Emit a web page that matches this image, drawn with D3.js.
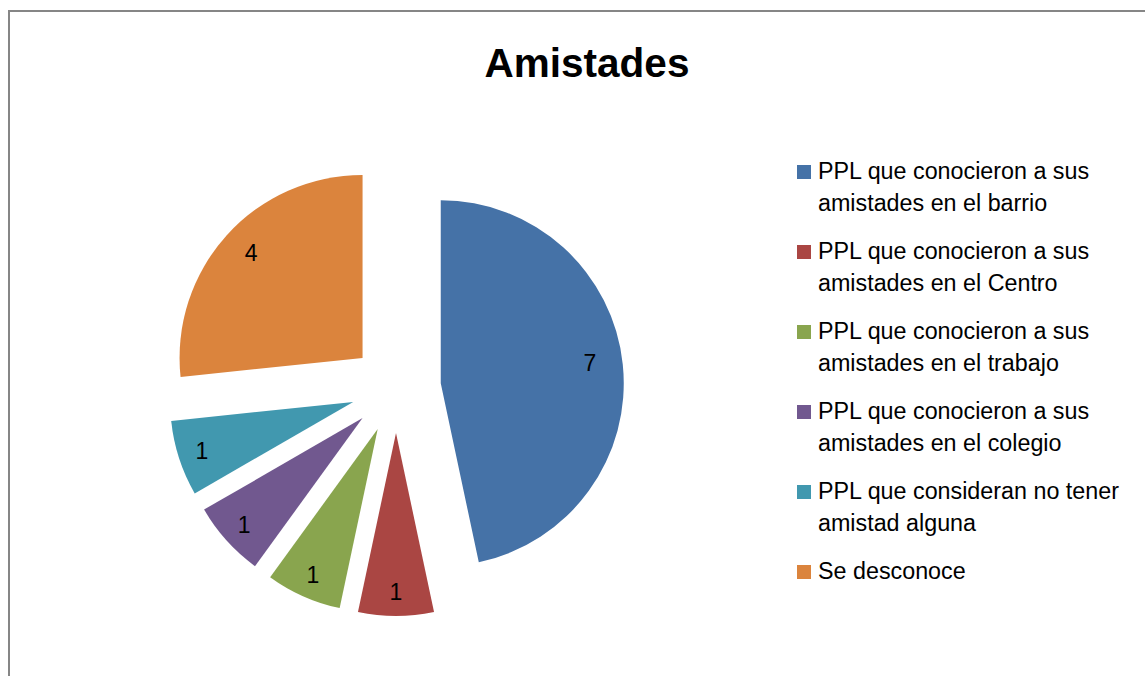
<!DOCTYPE html>
<html>
<head>
<meta charset="utf-8">
<script src="https://cdn.jsdelivr.net/npm/d3@7"></script>
<style>
  html, body { margin: 0; padding: 0; background: #fff; }
  svg { display: block; }
</style>
</head>
<body>
<svg id="chart" width="1145" height="676"></svg>
<script>
const title = "Amistades";
const categories = [
  ["PPL que conocieron a sus", "amistades en el barrio"],
  ["PPL que conocieron a sus", "amistades en el Centro"],
  ["PPL que conocieron a sus", "amistades en el trabajo"],
  ["PPL que conocieron a sus", "amistades en el colegio"],
  ["PPL que consideran no tener", "amistad alguna"],
  ["Se desconoce"]
];
const values = [7, 1, 1, 1, 1, 4];
const colors = ["#4572A7", "#AA4643", "#89A54E", "#71588F", "#4198AF", "#DB843D"];

const W = 1145, H = 676;
const svg = d3.select("#chart");
const FONT = "'Liberation Sans', Arial, sans-serif";

// chart border
svg.append("rect")
  .attr("x", 9).attr("y", 11)
  .attr("width", W + 20).attr("height", H + 20)
  .attr("fill", "#fff").attr("stroke", "#868686").attr("stroke-width", 2);

// title
svg.append("text")
  .attr("x", 587).attr("y", 77)
  .attr("text-anchor", "middle")
  .attr("font-family", FONT).attr("font-weight", "bold")
  .attr("font-size", 40.5).attr("fill", "#000")
  .text(title);

// pie
const cx = 396, cy = 388, R = 183, explode = 45;
const pie = d3.pie().sort(null).value(d => d);
const arcs = pie(values);
const arc = d3.arc().innerRadius(0).outerRadius(R);

const g = svg.append("g").attr("transform", `translate(${cx},${cy})`);
const slices = g.selectAll("g.slice").data(arcs).enter().append("g")
  .attr("class", "slice")
  .attr("transform", d => {
    const a = (d.startAngle + d.endAngle) / 2;
    return `translate(${explode * Math.sin(a)},${-explode * Math.cos(a)})`;
  });

slices.append("path")
  .attr("d", arc)
  .attr("fill", (d, i) => colors[i]);

slices.append("text")
  .attr("transform", d => {
    const share = (d.endAngle - d.startAngle) / (2 * Math.PI);
    const a = (d.startAngle + d.endAngle) / 2;
    const lr = R * (share > 0.2 ? 0.82 : 0.87);
    return `translate(${lr * Math.sin(a)},${-lr * Math.cos(a) - (share > 0.2 ? 5 : 0)})`;
  })
  .attr("text-anchor", "middle")
  .attr("dy", "0.36em")
  .attr("font-family", FONT).attr("font-size", 23).attr("fill", "#000")
  .text(d => d.value);

// legend
const legend = svg.append("g").attr("transform", "translate(797,179)");
const items = legend.selectAll("g.item").data(categories).enter().append("g")
  .attr("class", "item")
  .attr("transform", (d, i) => `translate(0,${i * 80})`);

items.append("rect")
  .attr("x", 0).attr("y", -14)
  .attr("width", 14).attr("height", 14)
  .attr("fill", (d, i) => colors[i]);

items.append("text")
  .attr("font-family", FONT).attr("font-size", 23.3).attr("fill", "#000")
  .selectAll("tspan").data(d => d).enter().append("tspan")
  .attr("x", 21)
  .attr("y", (d, j) => j * 32)
  .text(d => d);
</script>
</body>
</html>
